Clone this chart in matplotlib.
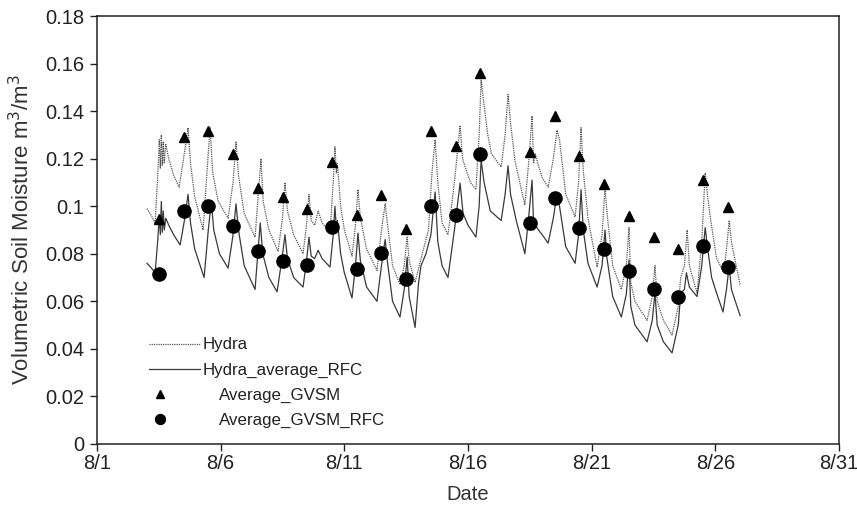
import matplotlib.pyplot as plt

plt.rcParams['font.family'] = ['Liberation Sans', 'DejaVu Sans']

# day of August, volumetric soil moisture (peaks / troughs)
hydra_pts = [
    (3.02, 0.099), (3.2, 0.096), (3.35, 0.093), (3.45, 0.112), (3.52, 0.128), (3.56, 0.116),
    (3.6, 0.130), (3.64, 0.117), (3.68, 0.127), (3.72, 0.118), (3.78, 0.126), (3.9, 0.120),
    (4.1, 0.113), (4.32, 0.108), (4.5, 0.120), (4.68, 0.133), (4.78, 0.118), (4.95, 0.104),
    (5.29, 0.090), (5.45, 0.115), (5.57, 0.133), (5.68, 0.114), (5.9, 0.102), (6.3, 0.095),
    (6.5, 0.110), (6.62, 0.127), (6.72, 0.113), (6.95, 0.097), (7.39, 0.087), (7.52, 0.105),
    (7.63, 0.120), (7.72, 0.102), (7.95, 0.090), (8.32, 0.081), (8.5, 0.095), (8.6, 0.110),
    (8.7, 0.098), (8.95, 0.088), (9.33, 0.080), (9.47, 0.092), (9.57, 0.105), (9.66, 0.094),
    (9.8, 0.092), (9.94, 0.098), (10.1, 0.093), (10.42, 0.089), (10.55, 0.110), (10.62, 0.125),
    (10.68, 0.114), (10.72, 0.118), (10.85, 0.100), (11.0, 0.090), (11.31, 0.079), (11.45, 0.092),
    (11.55, 0.107), (11.65, 0.095), (11.9, 0.082), (12.32, 0.073), (12.5, 0.090), (12.65, 0.101),
    (12.75, 0.092), (12.95, 0.075), (13.25, 0.067), (13.42, 0.075), (13.54, 0.087), (13.62, 0.077),
    (13.86, 0.068), (14.1, 0.078), (14.4, 0.090), (14.55, 0.115), (14.67, 0.128), (14.78, 0.110),
    (14.95, 0.093), (15.19, 0.088), (15.45, 0.110), (15.62, 0.128), (15.68, 0.134), (15.78, 0.120),
    (15.9, 0.116), (16.1, 0.110), (16.32, 0.107), (16.45, 0.130), (16.53, 0.153), (16.62, 0.145),
    (16.8, 0.130), (16.95, 0.122), (17.34, 0.1165), (17.5, 0.130), (17.62, 0.147), (17.72, 0.135),
    (17.9, 0.119), (18.3, 0.1005), (18.45, 0.118), (18.59, 0.138), (18.65, 0.118), (18.72, 0.122),
    (18.85, 0.117), (19.0, 0.112), (19.24, 0.108), (19.45, 0.120), (19.6, 0.132), (19.7, 0.128),
    (19.95, 0.105), (20.33, 0.0955), (20.47, 0.110), (20.57, 0.133), (20.66, 0.115), (20.85, 0.095),
    (21.22, 0.0744), (21.42, 0.088), (21.54, 0.108), (21.62, 0.097), (21.85, 0.075), (22.2, 0.065),
    (22.4, 0.075), (22.51, 0.091), (22.58, 0.068), (22.75, 0.060), (23.24, 0.052), (23.45, 0.062),
    (23.56, 0.075), (23.65, 0.060), (23.9, 0.052), (24.25, 0.0458), (24.5, 0.058), (24.6, 0.070),
    (24.75, 0.075), (24.86, 0.090), (24.95, 0.075), (25.26, 0.0635), (25.45, 0.085), (25.59, 0.114),
    (25.68, 0.105), (25.8, 0.095), (26.05, 0.078), (26.35, 0.072), (26.48, 0.085), (26.56, 0.094),
    (26.65, 0.085), (27.0, 0.067),
]

rfc_pts = [
    (3.02, 0.076), (3.2, 0.074), (3.35, 0.072), (3.45, 0.085), (3.52, 0.096), (3.56, 0.088),
    (3.6, 0.102), (3.64, 0.089), (3.68, 0.098), (3.72, 0.090), (3.78, 0.095), (3.9, 0.092),
    (4.1, 0.088), (4.36, 0.0837), (4.55, 0.095), (4.68, 0.105), (4.78, 0.093), (4.95, 0.082),
    (5.33, 0.070), (5.5, 0.090), (5.62, 0.102), (5.72, 0.090), (5.95, 0.080), (6.3, 0.074),
    (6.5, 0.088), (6.62, 0.101), (6.72, 0.090), (6.95, 0.075), (7.39, 0.065), (7.5, 0.080),
    (7.6, 0.093), (7.7, 0.080), (7.95, 0.070), (8.28, 0.064), (8.48, 0.078), (8.6, 0.088),
    (8.7, 0.078), (8.95, 0.070), (9.33, 0.066), (9.47, 0.077), (9.57, 0.087), (9.66, 0.079),
    (9.8, 0.078), (9.94, 0.0815), (10.1, 0.078), (10.42, 0.0744), (10.55, 0.088), (10.62, 0.100),
    (10.68, 0.090), (10.72, 0.094), (10.85, 0.080), (11.0, 0.072), (11.31, 0.0614), (11.45, 0.075),
    (11.55, 0.0887), (11.65, 0.077), (11.9, 0.066), (12.32, 0.060), (12.5, 0.075), (12.65, 0.086),
    (12.75, 0.076), (12.95, 0.060), (13.25, 0.0534), (13.42, 0.065), (13.54, 0.0786), (13.62, 0.062),
    (13.86, 0.049), (14.0, 0.0677), (14.1, 0.075), (14.3, 0.080), (14.5, 0.088), (14.67, 0.106),
    (14.78, 0.085), (14.95, 0.075), (15.19, 0.070), (15.45, 0.090), (15.68, 0.1097), (15.8, 0.097),
    (16.0, 0.092), (16.32, 0.087), (16.45, 0.100), (16.53, 0.1194), (16.65, 0.110), (16.9, 0.098),
    (17.34, 0.094), (17.5, 0.105), (17.62, 0.117), (17.72, 0.105), (17.95, 0.094), (18.3, 0.080),
    (18.45, 0.095), (18.59, 0.111), (18.66, 0.090), (18.72, 0.092), (18.85, 0.090), (19.0, 0.088),
    (19.24, 0.0845), (19.45, 0.095), (19.6, 0.1055), (19.7, 0.100), (19.95, 0.083), (20.33, 0.076),
    (20.47, 0.088), (20.57, 0.107), (20.66, 0.090), (20.85, 0.076), (21.22, 0.066), (21.42, 0.075),
    (21.54, 0.090), (21.62, 0.078), (21.85, 0.062), (22.2, 0.0534), (22.4, 0.063), (22.51, 0.0774),
    (22.58, 0.058), (22.75, 0.050), (23.24, 0.043), (23.45, 0.052), (23.56, 0.0635), (23.65, 0.050),
    (23.9, 0.043), (24.25, 0.0383), (24.5, 0.050), (24.6, 0.0635), (24.75, 0.065), (24.83, 0.072),
    (24.95, 0.066), (25.26, 0.062), (25.45, 0.075), (25.59, 0.091), (25.68, 0.083), (25.85, 0.070),
    (26.05, 0.0635), (26.31, 0.0555), (26.45, 0.065), (26.56, 0.075), (26.65, 0.065), (27.0, 0.054),
]

# daily averages (no value on 8/17)
avg_day = [3.5, 4.5, 5.5, 6.5, 7.5, 8.5, 9.5, 10.5, 11.5, 12.5, 13.5, 14.5, 15.5, 16.5,
           18.5, 19.5, 20.5, 21.5, 22.5, 23.5, 24.5, 25.5, 26.5]
avg_gvsm = [0.0946, 0.129, 0.1316, 0.122, 0.1077, 0.1039, 0.0988, 0.1186, 0.0963, 0.1047,
            0.0904, 0.1316, 0.1253, 0.156, 0.1228, 0.138, 0.1211, 0.1093, 0.0959, 0.087,
            0.082, 0.111, 0.0997]
avg_gvsm_rfc = [0.0715, 0.098, 0.100, 0.0917, 0.0812, 0.077, 0.0753, 0.0913, 0.0736, 0.0803,
                0.0694, 0.100, 0.0963, 0.122, 0.0929, 0.1034, 0.0908, 0.082, 0.0727, 0.0652,
                0.0618, 0.0833, 0.0744]

xticks = [1, 6, 11, 16, 21, 26, 31]
xlabels = ['8/1', '8/6', '8/11', '8/16', '8/21', '8/26', '8/31']
yticks = [0, 0.02, 0.04, 0.06, 0.08, 0.1, 0.12, 0.14, 0.16, 0.18]
ylabels = ['0', '0.02', '0.04', '0.06', '0.08', '0.1', '0.12', '0.14', '0.16', '0.18']

fig = plt.figure(figsize=(8.57, 5.05), dpi=100)
ax = fig.add_axes([0.1132, 0.1208, 0.8658, 0.8475])

l1, = ax.plot([p[0] for p in hydra_pts], [p[1] for p in hydra_pts], color='#555555',
              lw=0.9, ls=(0, (1, 0.8)), label='Hydra')
l2, = ax.plot([p[0] for p in rfc_pts], [p[1] for p in rfc_pts], color='#3a3a3a',
              lw=0.9, label='Hydra_average_RFC')
tri, = ax.plot(avg_day, avg_gvsm, ls='none', marker='^', ms=7.5, color='black',
               label='Average_GVSM')
dot, = ax.plot(avg_day, avg_gvsm_rfc, ls='none', marker='o', ms=9.5, color='black',
               label='Average_GVSM_RFC')

ax.set_xlim(1, 31)
ax.set_ylim(0, 0.18)
ax.set_xticks(xticks)
ax.set_xticklabels(xlabels)
ax.set_yticks(yticks)
ax.set_yticklabels(ylabels)
ax.tick_params(direction='out', length=5, width=1, labelsize=14.5, colors='#222222')
ax.tick_params(axis='y', pad=4)
ax.tick_params(axis='x', pad=2)
for s in ax.spines.values():
    s.set_linewidth(1.1)
    s.set_color('#222222')

ax.set_xlabel('Date', fontsize=14.5, color='#333333', labelpad=9)
ax.set_ylabel('Volumetric Soil Moisture m$^3$/m$^3$', fontsize=16, color='#333333', labelpad=8)

# lines and markers sit in two blocks, the marker labels indented a bit more
leg1 = ax.legend(handles=[l1, l2], loc='center left', bbox_to_anchor=(0.05, 0.2018),
                 frameon=False, fontsize=12.2, handlelength=3.0, handletextpad=0.15,
                 labelspacing=0.6, labelcolor='#222222')
ax.add_artist(leg1)
ax.legend(handles=[tri, dot], loc='center left', bbox_to_anchor=(0.0466, 0.0838),
          frameon=False, fontsize=12.2, markerscale=0.75, handlelength=1.5,
          handletextpad=2.75, labelspacing=0.6, labelcolor='#222222')

fig.savefig('out.png', dpi=100)
